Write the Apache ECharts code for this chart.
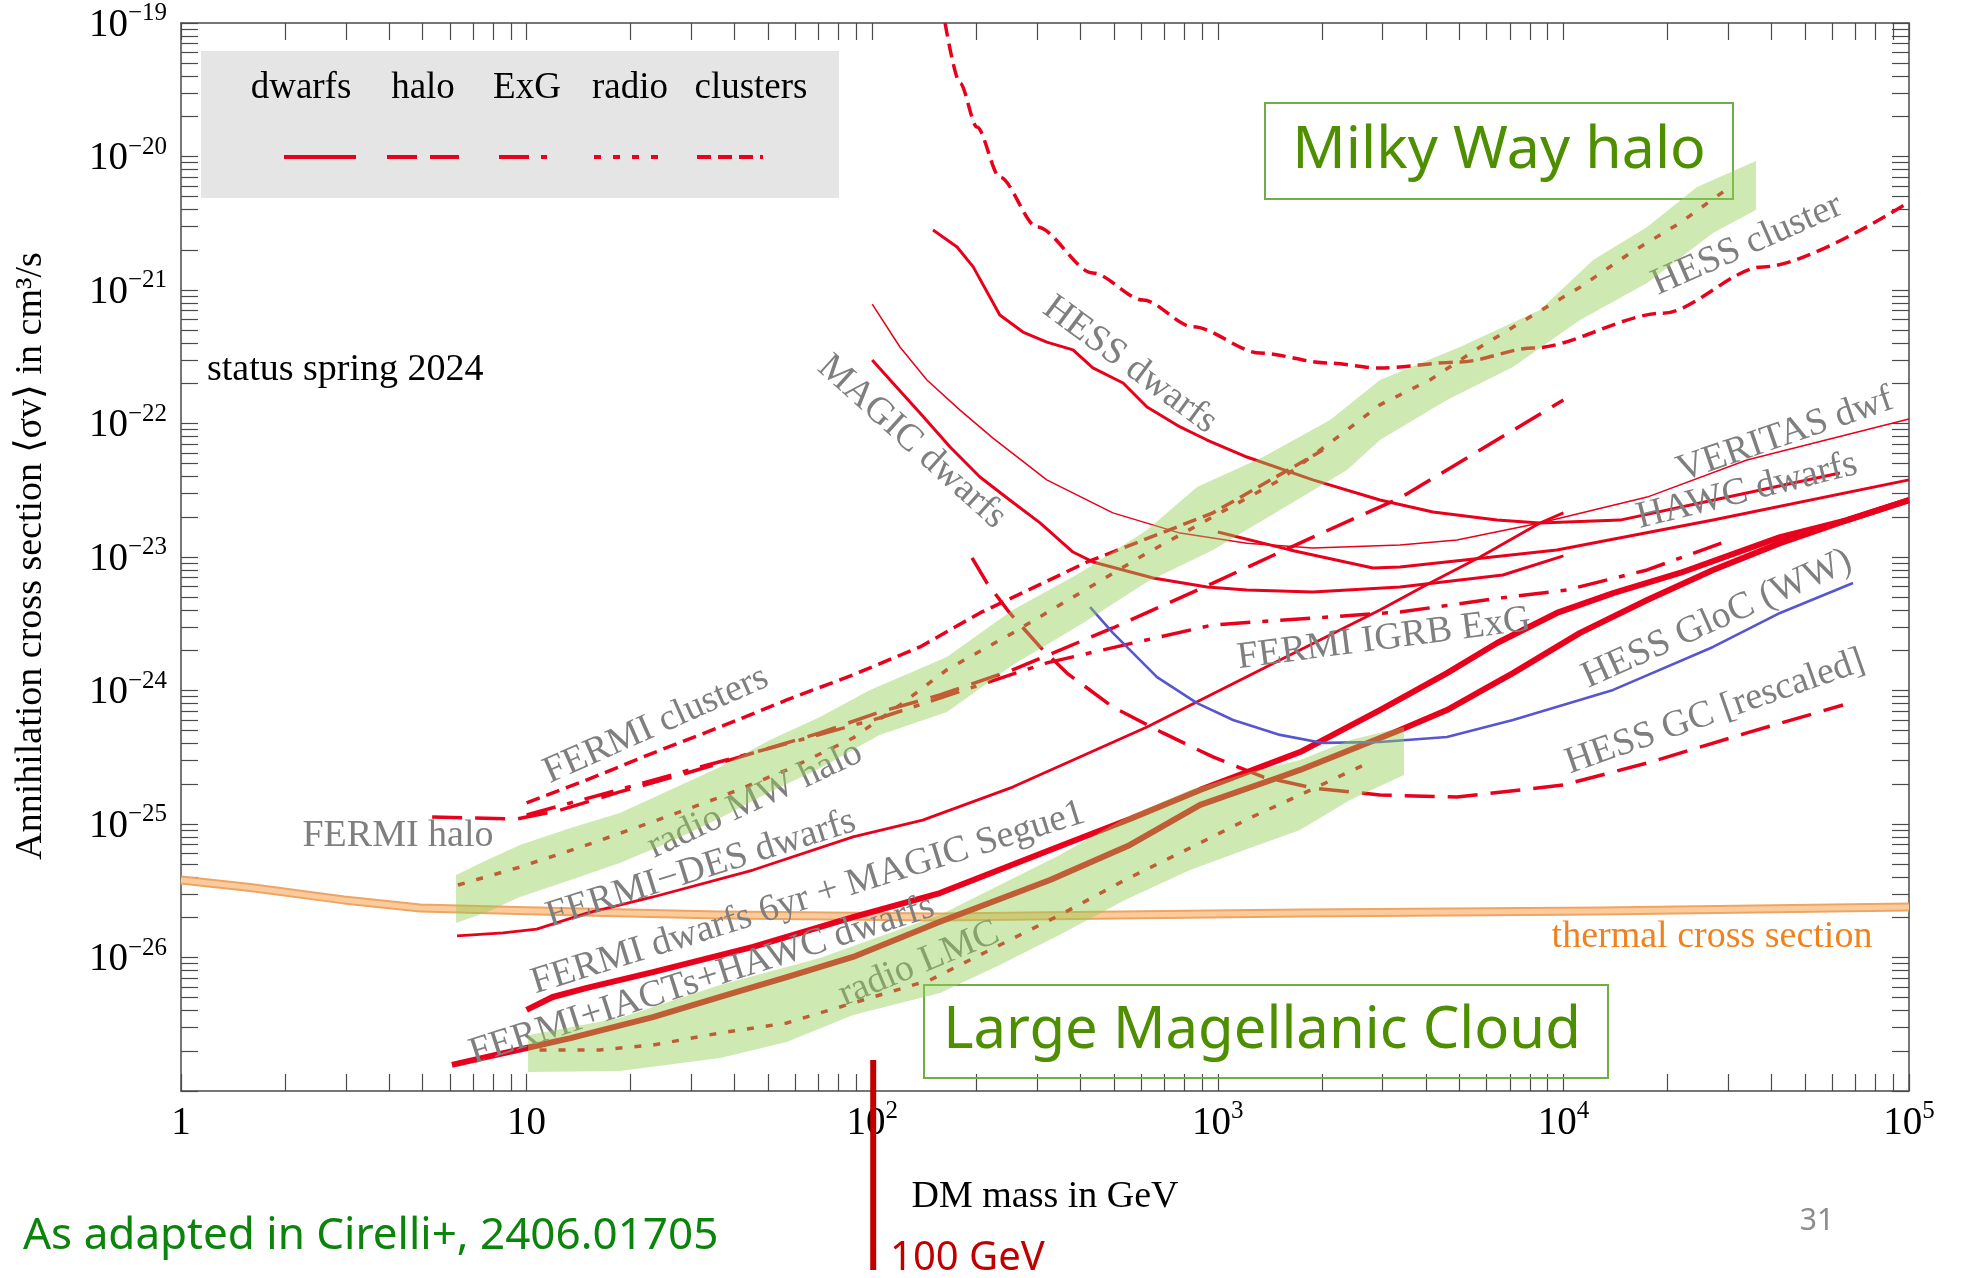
<!DOCTYPE html>
<html>
<head>
<meta charset="utf-8">
<title>DM annihilation limits</title>
<script src="https://cdn.jsdelivr.net/npm/echarts@6/dist/echarts.min.js"></script>
<style>
html,body{margin:0;padding:0;background:#ffffff;}
#chart{width:1961px;height:1278px;}
</style>
</head>
<body>
<div id="chart"></div>
<script>
// ================= DATA (mass in GeV, <sigma v> in cm^3/s) =================
const xMajorTicks = [1, 10, 100, 1000, 10000, 100000];
const yMajorTicks = [1e-27, 1e-26, 1e-25, 1e-24, 1e-23, 1e-22, 1e-21, 1e-20, 1e-19];
const minorMantissas = [2, 3, 4, 5, 6, 7, 8, 9];
const xTickLabels = [['1', ''], ['10', ''], ['10', '2'], ['10', '3'], ['10', '4'], ['10', '5']];
const yTickLabels = [['10', '−27'], ['10', '−26'], ['10', '−25'], ['10', '−24'], ['10', '−23'], ['10', '−22'], ['10', '−21'], ['10', '−20'], ['10', '−19']];

const thermal = [[1,3.81e-26],[1.585,3.34e-26],[2.96,2.70e-26],[4.92,2.35e-26],[10,2.24e-26],[36,2.08e-26],[157,2.01e-26],[1740,2.15e-26],[12800,2.23e-26],[1e5,2.39e-26]];

const hessCluster = [[162.5,1e-19],[179.5,3.55e-20],[201,1.66e-20],[234,7.0e-21],[300,2.96e-21],[435,1.34e-21],[608,8.4e-22],[847,5.3e-22],[1325,3.37e-22],[2070,2.84e-22],[2945,2.6e-22],[5020,2.89e-22],[8170,3.68e-22],[19400,6.7e-22],[37800,1.49e-21],[1e5,4.56e-21]];

const hessDwarfs = [[150,2.81e-21],[176,2.10e-21],[196,1.49e-21],[234,6.50e-22],[273,4.84e-22],[320,4.07e-22],[381,3.56e-22],[435,2.61e-22],[532,2.01e-22],[624,1.33e-22],[778,9.42e-23],[931,7.52e-23],[1214,5.61e-23],[1884,3.78e-23],[2945,2.67e-23],[4193,2.17e-23],[6427,1.89e-23],[8551,1.80e-23],[14590,1.89e-23],[24830,2.54e-23],[39600,3.29e-23],[63100,4.26e-23]];

const magicDwarfs = [[100,2.99e-22],[112.7,2.12e-22],[137.5,1.20e-22],[168,6.67e-23],[205,3.97e-23],[250,2.67e-23],[306,1.80e-23],[381,1.09e-23],[435,9.18e-24],[650,6.97e-24],[931,5.96e-24],[1214,5.66e-24],[1884,5.47e-24],[3367,5.96e-24],[6683,7.33e-24],[10000,1.02e-23]];

const veritasDwf = [[100,7.85e-22],[120.3,3.74e-22],[144,2.12e-22],[179.5,1.26e-22],[223.6,7.78e-23],[320,3.78e-23],[497,2.14e-23],[778,1.51e-23],[1214,1.27e-23],[1884,1.17e-23],[3367,1.23e-23],[4920,1.34e-23],[8551,1.80e-23],[17470,2.81e-23],[33960,5.33e-23],[1e5,1.08e-22]];

const hawcDwarfs = [[1000,1.54e-23],[1618,1.13e-23],[2812,8.28e-24],[3367,8.41e-24],[9575,1.13e-23],[27100,1.89e-23],[1e5,3.78e-23]];

const fermiDes = [[6.29,1.45e-26],[8.55,1.53e-26],[10.7,1.63e-26],[14.95,2.15e-26],[23.2,2.84e-26],[45.2,4.52e-26],[88,8.0e-26],[140,1.07e-25],[255,1.89e-25],[624,5.33e-25],[1514,1.69e-24],[2945,4.01e-24],[4110,6.38e-24],[5740,1.0e-23],[8551,1.80e-23],[10000,2.14e-23]];

const fermi6yrMagic = [[10,4.05e-27],[11.9,5.06e-27],[14.95,5.92e-27],[23.2,7.78e-27],[45.2,1.20e-26],[88,2.01e-26],[157,3.04e-26],[327,6.38e-26],[557,1.09e-25],[889,1.80e-25],[1730,3.46e-25],[2945,7.14e-25],[4603,1.35e-24],[6427,2.27e-24],[9575,3.81e-24],[13930,5.37e-24],[21740,7.59e-24],[42360,1.41e-23],[66200,1.89e-23],[1e5,2.67e-23]];

const fermiIactsHawc = [[6.08,1.57e-27],[7.68,1.80e-27],[10,2.10e-27],[13.4,2.49e-27],[23.2,3.58e-27],[36.3,5.06e-27],[56.6,7.14e-27],[88,1.01e-26],[122.7,1.43e-26],[157,1.85e-26],[327,3.81e-26],[557,6.97e-26],[889,1.39e-25],[1514,2.25e-25],[1730,2.54e-25],[3367,5.06e-25],[4603,7.14e-25],[5850,1.01e-24],[7145,1.35e-24],[11170,2.70e-24],[17470,4.76e-24],[27100,8.0e-24],[42360,1.27e-23],[66200,1.89e-23],[1e5,2.67e-23]];

const fermiHalo = [[5.33,1.13e-25],[9.38,1.09e-25],[12.5,1.27e-25],[18.6,1.74e-25],[29.1,2.41e-25],[45.2,3.40e-25],[70.6,4.81e-25],[105,6.90e-25],[157,9.25e-25],[255,1.43e-24],[497,2.94e-24],[968,6.38e-24],[1884,1.41e-23],[3367,2.77e-23],[5740,6.32e-23],[10000,1.50e-22]];

const fermiIgrbExg = [[10,1.17e-25],[16.3,1.65e-25],[31.8,2.67e-25],[61.8,4.26e-25],[105,6.22e-25],[196,1.06e-24],[320,1.61e-24],[569,2.27e-24],[968,3.10e-24],[1884,3.49e-24],[3367,3.87e-24],[6554,4.93e-24],[10230,5.66e-24],[17470,8.0e-24],[30340,1.34e-23]];

const hessGC = [[194.5,9.84e-24],[215,6.38e-24],[250,3.81e-24],[306,2.12e-24],[366,1.35e-24],[497,7.52e-25],[694,4.81e-25],[968,3.18e-25],[1352,2.25e-25],[1884,1.86e-25],[2945,1.65e-25],[4920,1.59e-25],[10000,1.96e-25],[17470,2.86e-25],[33960,4.81e-25],[64420,7.78e-25]];

const hessGloC = [[427,4.22e-24],[497,2.70e-24],[667,1.26e-24],[871,8.05e-25],[1107,6.01e-25],[1514,4.65e-25],[2014,4.05e-25],[2945,4.11e-25],[4603,4.49e-25],[7145,6.01e-25],[13930,1.01e-24],[27100,2.12e-24],[42360,3.81e-24],[68870,6.38e-24]];

const fermiClusters = [[10,1.44e-25],[14.95,2.14e-25],[23.2,3.40e-25],[36.3,5.33e-25],[56.6,8.49e-25],[88,1.31e-24],[137.5,2.12e-24],[205,3.81e-24],[419,9.18e-24],[968,2.14e-23],[2014,6.32e-23]];

const radioMW = [[6.33,3.49e-26],[9.57,4.76e-26],[14.95,6.97e-26],[23.2,1.04e-25],[36.3,1.59e-25],[56.6,2.54e-25],[88,4.41e-25],[120.3,7.78e-25],[164.5,1.43e-24],[255,2.70e-24],[399,5.37e-24],[624,1.07e-23],[968,2.0e-23],[1514,3.78e-23],[2366,8.93e-23],[2945,1.38e-22],[4110,2.12e-22],[5740,3.74e-22],[8000,6.28e-22],[11170,1.05e-21],[15600,1.89e-21],[21740,3.18e-21],[30340,5.92e-21]];

const radioLMC = [[10.9,2.03e-27],[16.3,2.03e-27],[23.2,2.21e-27],[36.3,2.72e-27],[56.6,3.23e-27],[88,4.56e-27],[147,6.78e-27],[234,1.24e-26],[349,2.08e-26],[539,3.81e-26],[831,6.61e-26],[1239,1.11e-25],[1730,1.65e-25],[2754,2.91e-25]];

const mwBandUpper = [[6.25,4.15e-26],[7.68,5.37e-26],[9.57,6.97e-26],[13.4,9.33e-26],[18.6,1.21e-25],[26,1.80e-25],[36.3,2.67e-25],[50.6,4.26e-25],[70.6,6.32e-25],[98.6,1.01e-24],[164.5,1.78e-24],[255,4.01e-24],[399,7.59e-24],[624,1.59e-23],[871,3.34e-23],[1352,5.61e-23],[2113,1.06e-22],[2945,2.12e-22],[5020,3.74e-22],[8551,7.08e-22],[12190,1.68e-21],[17470,2.96e-21],[24360,5.92e-21],[36060,9.25e-21]];
const mwBandLower = [[6.25,1.81e-26],[7.68,2.19e-26],[9.57,2.84e-26],[13.4,3.81e-26],[18.6,5.11e-26],[26,7.33e-26],[36.3,1.11e-25],[50.6,1.74e-25],[70.6,2.62e-25],[105,4.65e-25],[164.5,6.90e-25],[255,1.55e-24],[399,3.10e-24],[624,6.50e-24],[968,1.13e-23],[1514,2.25e-23],[2366,4.49e-23],[2945,7.52e-23],[4603,1.50e-22],[7145,2.65e-22],[11170,5.96e-22],[17470,1.13e-21],[27100,2.67e-21],[36060,3.97e-21]];

const lmcBandUpper = [[10.1,2.62e-27],[18.6,3.52e-27],[36.3,6.22e-27],[70.6,9.91e-27],[157,2.08e-26],[234,3.49e-26],[349,5.86e-26],[539,1.11e-25],[831,1.80e-25],[1239,2.45e-25],[1730,3.01e-25],[2414,4.26e-25],[3457,5.33e-25]];
const lmcBandLower = [[10.1,1.39e-27],[18.6,1.41e-27],[36.3,1.77e-27],[56.6,2.33e-27],[88,3.71e-27],[157,5.42e-27],[234,8.79e-27],[349,1.48e-26],[539,2.70e-26],[831,4.52e-26],[1239,6.61e-26],[1730,9.02e-26],[2414,1.51e-25],[3457,2.33e-25]];

const markerMass = 100; // "100 GeV" marker

// ================= STYLE =================
const RED = '#e8001c';
const GREY = '#7f7f7f';
const AXIS = '#4a4a4a';
const SERIF = '"Liberation Serif","Times New Roman",serif';
const SANS = '"Noto Sans","Open Sans",sans-serif';
const BAND = 'rgba(146,206,84,0.45)';
const DASH = {
  halo: [30, 13],
  exg: [30, 12, 6, 12],
  radio: [7, 12],
  clusters: [14, 7]
};

function decadeTicks(majors) {
  const out = [];
  majors.forEach((d, i) => {
    out.push(d);
    if (i < majors.length - 1) minorMantissas.forEach(m => out.push(m * d));
  });
  return out;
}
const xTickVals = decadeTicks(xMajorTicks);
const yTickVals = decadeTicks(yMajorTicks);

function line(name, data, width, type, color, smooth, z) {
  const s = {
    type: 'line', name, data, symbol: 'none', showSymbol: false,
    smooth: smooth || false, clip: true, silent: true,
    z: z || 2,
    lineStyle: { color: color || RED, width: width, type: type || 'solid', cap: 'butt', join: 'round' }
  };
  if (smooth) s.smoothMonotone = 'x';
  return s;
}
function band(name, upper, lower, color) {
  return {
    type: 'custom', name, coordinateSystem: 'cartesian2d', xAxisIndex: 0, yAxisIndex: 0,
    z: 4, silent: true, clip: true,
    data: [upper[0]],
    renderItem(params, api) {
      const pts = upper.map(p => api.coord(p)).concat(lower.slice().reverse().map(p => api.coord(p)));
      return { type: 'polygon', shape: { points: pts }, style: { fill: color } };
    }
  };
}

const richTick = {
  b: { fontFamily: SERIF, fontSize: 39, color: '#000', lineHeight: 44, verticalAlign: 'bottom' },
  s: { fontFamily: SERIF, fontSize: 25, color: '#000', lineHeight: 26, verticalAlign: 'top' }
};
function fmt(pair) {
  if (!pair) return '';
  return pair[1] ? '{b|' + pair[0] + '}{s|' + pair[1] + '}' : '{b|' + pair[0] + '}';
}
function tickValue(v) {
  if (v && typeof v === 'object' && 'value' in v) v = v.value;
  return Number(v);
}
function decadeIndex(v) {
  v = tickValue(v);
  if (!(v > 0)) return null;
  const e = Math.round(Math.log10(v));
  if (Math.abs(Math.log10(v) - e) > 1e-6) return null;
  return e;
}
function xFmt(v) { const e = decadeIndex(v); return e === null ? '' : fmt(xTickLabels[e]); }
function yFmt(v) { const e = decadeIndex(v); return e === null ? '' : fmt(yTickLabels[e + 27]); }

function axisBase(extra) {
  return Object.assign({
    type: 'log', logBase: 10, gridIndex: 0,
    axisLine: { show: true, onZero: false, lineStyle: { color: AXIS, width: 1.5 } },
    splitLine: { show: false },
    minorTick: { show: false },
    minorSplitLine: { show: false }
  }, extra);
}

const chart = echarts.init(document.getElementById('chart'), null, { renderer: 'canvas', width: 1961, height: 1278 });

const option = {
  animation: false,
  backgroundColor: '#ffffff',
  grid: { left: 181, right: 52, top: 23, bottom: 187, containLabel: false, outerBoundsMode: 'none' },
  xAxis: [
    axisBase({
      position: 'bottom', min: 1, max: 1e5, splitNumber: 5,
      axisTick: { show: true, inside: true, length: 17, customValues: xTickVals, lineStyle: { color: AXIS, width: 1.2 } },
      axisLabel: { show: true, margin: 8, rich: richTick, formatter: xFmt }
    }),
    axisBase({
      position: 'top', min: 1, max: 1e5, splitNumber: 5,
      axisTick: { show: true, inside: true, length: 17, customValues: xTickVals, lineStyle: { color: AXIS, width: 1.2 } },
      axisLabel: { show: false }
    })
  ],
  yAxis: [
    axisBase({
      position: 'left', min: 1e-27, max: 1e-19, splitNumber: 8,
      axisTick: { show: true, inside: true, length: 17, customValues: yTickVals, lineStyle: { color: AXIS, width: 1.2 } },
      axisLabel: { show: true, margin: 14, rich: richTick, formatter: yFmt }
    }),
    axisBase({
      position: 'right', min: 1e-27, max: 1e-19, splitNumber: 8,
      axisTick: { show: true, inside: true, length: 17, customValues: yTickVals, lineStyle: { color: AXIS, width: 1.2 } },
      axisLabel: { show: false }
    })
  ],
  series: [
    line('thermal edge', thermal, 9, 'solid', '#eda565', false, 1),
    line('thermal cross section', thermal, 5, 'solid', '#fccb9c', false, 1),
    line('HESS cluster', hessCluster, 3.5, DASH.clusters, RED, 0.3),
    line('FERMI clusters', fermiClusters, 3.5, DASH.clusters, RED),
    line('HESS dwarfs', hessDwarfs, 3, 'solid', RED),
    line('MAGIC dwarfs', magicDwarfs, 3, 'solid', RED),
    line('VERITAS dwf', veritasDwf, 1.5, 'solid', RED),
    line('HAWC dwarfs', hawcDwarfs, 3, 'solid', RED),
    line('FERMI-DES dwarfs', fermiDes, 2.8, 'solid', RED),
    line('FERMI dwarfs 6yr + MAGIC Segue1', fermi6yrMagic, 6, 'solid', RED),
    line('FERMI+IACTs+HAWC dwarfs', fermiIactsHawc, 6, 'solid', RED),
    line('FERMI halo', fermiHalo, 3.5, DASH.halo, RED),
    line('FERMI IGRB ExG', fermiIgrbExg, 3.5, DASH.exg, RED),
    line('HESS GC [rescaled]', hessGC, 3.5, DASH.halo, RED),
    line('HESS GloC (WW)', hessGloC, 2.6, 'solid', '#5656d2'),
    line('radio MW halo', radioMW, 3.5, DASH.radio, RED),
    line('radio LMC', radioLMC, 3.5, DASH.radio, RED),
    band('Milky Way halo band', mwBandUpper, mwBandLower, BAND),
    band('LMC band', lmcBandUpper, lmcBandLower, BAND)
  ]
};
chart.setOption(option);

// ================= ANNOTATIONS =================
const curveLabels = [
  { t: 'HESS cluster', x: 1747, y: 245, r: 23.7 },
  { t: 'HESS dwarfs', x: 1130, y: 365, r: -36.4 },
  { t: 'MAGIC dwarfs', x: 912, y: 442, r: -42 },
  { t: 'VERITAS dwf', x: 1785, y: 435, r: 19 },
  { t: 'HAWC dwarfs', x: 1747, y: 491, r: 14 },
  { t: 'FERMI IGRB ExG', x: 1384, y: 639, r: 7.5 },
  { t: 'HESS GloC (WW)', x: 1717, y: 619, r: 24.3 },
  { t: 'HESS GC [rescaled]', x: 1715, y: 712, r: 19.3 },
  { t: 'FERMI clusters', x: 656, y: 725, r: 24 },
  { t: 'radio MW halo', x: 755, y: 800, r: 25 },
  { t: 'FERMI halo', x: 398, y: 836, r: 0 },
  { t: 'FERMI\u2212DES dwarfs', x: 701, y: 869, r: 17.5 },
  { t: 'FERMI dwarfs 6yr + MAGIC Segue1', x: 808, y: 898, r: 17.3 },
  { t: 'FERMI+IACTs+HAWC dwarfs', x: 702, y: 980, r: 17.8 },
  { t: 'radio LMC', x: 919, y: 964, r: 22.6 }
];

function text(t, x, y, o) {
  o = o || {};
  return {
    type: 'text', x: x, y: y, rotation: (o.r || 0) * Math.PI / 180, z: o.z || 3, silent: true,
    style: {
      text: t, fill: o.color || '#000', fontSize: o.size || 38, fontFamily: o.family || SERIF,
      align: o.align || 'center', verticalAlign: o.va || 'middle',
      textAlign: o.align || 'center', textVerticalAlign: o.va || 'middle'
    }
  };
}

let markerX = 872;
try {
  const px = chart.convertToPixel({ xAxisIndex: 0 }, markerMass);
  if (typeof px === 'number' && isFinite(px)) markerX = px;
} catch (e) {}

const elements = [];
// legend box
elements.push({ type: 'rect', z: 1, silent: true, shape: { x: 201, y: 51, width: 638, height: 147 }, style: { fill: '#e5e5e5' } });
const legendItems = [
  { t: 'dwarfs', cx: 301, x1: 284, x2: 356, dash: null },
  { t: 'halo', cx: 423, x1: 387, x2: 459, dash: DASH.halo },
  { t: 'ExG', cx: 527, x1: 499, x2: 553, dash: DASH.exg },
  { t: 'radio', cx: 630, x1: 594, x2: 667, dash: DASH.radio },
  { t: 'clusters', cx: 751, x1: 697, x2: 763, dash: DASH.clusters }
];
legendItems.forEach(it => {
  elements.push(text(it.t, it.cx, 88, { size: 37, z: 2 }));
  const ln = { type: 'line', z: 2, silent: true, shape: { x1: it.x1, y1: 157, x2: it.x2, y2: 157 },
    style: { stroke: RED, lineWidth: 4 } };
  if (it.dash) ln.style.lineDash = it.dash;
  elements.push(ln);
});
// curve labels
curveLabels.forEach(l => elements.push(text(l.t, l.x, l.y, { r: l.r, color: GREY, size: 38 })));
// other texts
elements.push(text('thermal cross section', 1712, 937, { color: '#f0821e', size: 38 }));
elements.push(text('status spring 2024', 207, 370, { align: 'left', size: 38 }));
elements.push(text('Annihilation cross section \u27E8\u03C3v\u27E9 in cm\u00B3/s', 31, 556, { r: 90, size: 38 }));
elements.push(text('DM mass in GeV', 1045, 1197, { size: 38 }));
// region boxes
elements.push({ type: 'rect', z: 3, silent: true, shape: { x: 1265, y: 103, width: 468, height: 96 }, style: { fill: 'none', stroke: '#6fae45', lineWidth: 2 } });
elements.push(text('Milky Way halo', 1499, 151, { family: SANS, size: 59, color: '#4e8f00' }));
elements.push({ type: 'rect', z: 3, silent: true, shape: { x: 924, y: 985, width: 684, height: 93 }, style: { fill: 'none', stroke: '#6fae45', lineWidth: 2 } });
elements.push(text('Large Magellanic Cloud', 1262, 1031, { family: SANS, size: 58, color: '#4e8f00' }));
// footer
elements.push(text('As adapted in Cirelli+, 2406.01705', 23, 1236, { family: SANS, size: 44, color: '#0b840b', align: 'left' }));
elements.push({ type: 'line', z: 5, silent: true, shape: { x1: markerX + 1, y1: 1060, x2: markerX + 1, y2: 1270 }, style: { stroke: '#c00000', lineWidth: 6 } });
elements.push(text('100 GeV', 890, 1259, { family: SANS, size: 40, color: '#c00000', align: 'left' }));
elements.push(text('31', 1817, 1221, { family: SANS, size: 30, color: '#8c8c8c' }));

chart.setOption({ graphic: { elements: elements } });
</script>
</body>
</html>
